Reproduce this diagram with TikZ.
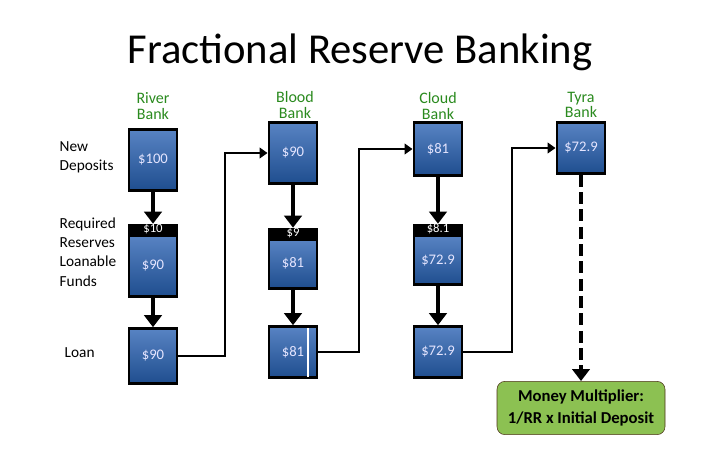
\documentclass[tikz,border=0pt]{standalone}
\usepackage{fontspec}
\setmainfont{Carlito}
\usetikzlibrary{arrows.meta}
\definecolor{bk}{HTML}{2E64B4}
\definecolor{bkd}{HTML}{1F4E8F}
\definecolor{gtxt}{HTML}{2A8A1E}
\definecolor{gbox}{HTML}{8CC152}
\begin{document}
\begin{tikzpicture}[x=0.75pt,y=-0.75pt,
  box/.style={draw=black,line width=2.2pt,top color=bk!80!white,bottom color=bkd,minimum width=36pt,text=blue!10!white,font=\fontsize{11}{12}\selectfont,inner sep=0pt},
  hdr/.style={fill=black,text=white,minimum width=38pt,minimum height=7.5pt,inner sep=0pt,font=\fontsize{9.5}{10}\selectfont},
  bank/.style={text=gtxt,align=center,font=\fontsize{12}{11.5}\selectfont},
  lab/.style={align=left,anchor=west,font=\fontsize{11.5}{14.5}\selectfont},
  arr/.style={line width=3.5pt,-{Triangle[length=9pt,width=13pt]}},
  conn/.style={line width=2pt,-{Triangle[length=6pt,width=8pt]}}]
\useasboundingbox (0,0) rectangle (720,450);
\node[font=\fontsize{32}{38}\selectfont] (title) at (360,52) {Fractional Reserve Banking};
\node[bank] (rb) at (153,106) {River\\Bank};
\node[bank] (bb) at (295,105) {Blood\\Bank};
\node[bank] (cb) at (438,106) {Cloud\\Bank};
\node[bank] (tb) at (581,105) {Tyra\\Bank};
\node[lab] (l1) at (55,157) {New\\Deposits};
\node[lab] (l2) at (55,252) {Required\\Reserves\\Loanable\\Funds};
\node[lab] (l3) at (60,353) {Loan};
% River
\node[box,minimum height=46pt] (r1) at (153,160) {\$100};
\node[hdr] (r2h) at (153,229) {\$10};
\node[box,minimum height=45.5pt,anchor=north] (r2) at (153,234) {\$90};
\node[box,minimum height=41pt] (r3) at (153,356) {\$90};
% Blood
\node[box,minimum height=46pt] (b1) at (293,153) {\$90};
\node[hdr] (b2h) at (293,233) {\$9};
\node[box,minimum height=36.5pt,anchor=north] (b2) at (293,238) {\$81};
\node[box,minimum height=38pt] (b3) at (293,352) {\$81};
\draw[white,line width=1pt] (308,328) -- (308,377);
% Cloud
\node[box,minimum height=39.5pt] (c1) at (438,149) {\$81};
\node[hdr] (c2h) at (438,229) {\$8.1};
\node[box,minimum height=37pt,anchor=north] (c2) at (438,234) {\$72.9};
\node[box,minimum height=38pt] (c3) at (438,352) {\$72.9};
% Tyra
\node[box,minimum height=38pt] (t1) at (581,148) {\$72.9};
\node[draw=black!60!brown,fill=gbox,rounded corners=6pt,minimum width=126pt,minimum height=40pt,align=center,font=\bfseries\fontsize{12.5}{17}\selectfont] (mm) at (581,408) {Money Multiplier:\\1/RR x Initial Deposit};
% arrows
\draw[arr] (r1) -- (r2h);
\draw[arr] (r2) -- (r3);
\draw[arr] (b1) -- (b2h);
\draw[arr] (b2) -- (b3);
\draw[arr] (c1) -- (c2h);
\draw[arr] (c2) -- (c3);
\draw[arr,dash pattern=on 9pt off 4pt] (t1) -- (mm);
\draw[conn] (r3.east) -- (225,356) |- (b1.west);
\draw[conn] (b3.east) -- (359,352) |- (c1.west);
\draw[conn] (c3.east) -- (512,352) |- (t1.west);
\end{tikzpicture}
\end{document}
